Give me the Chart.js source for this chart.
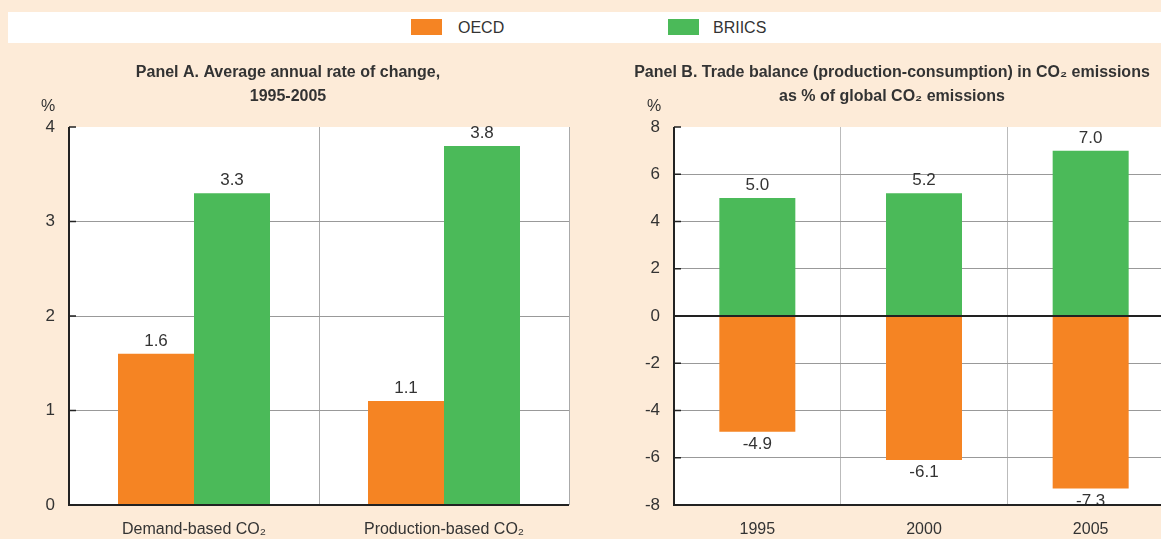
<!DOCTYPE html>
<html>
<head>
<meta charset="utf-8">
<script src="https://cdn.jsdelivr.net/npm/chart.js@4.4.1/dist/chart.umd.min.js"></script>
<style>
  html, body { margin: 0; padding: 0; }
  body {
    width: 1161px; height: 539px; overflow: hidden; position: relative;
    background: #FDEBD8;
    font-family: 'Liberation Sans Narrow', 'Arial Narrow', 'Liberation Sans', sans-serif;
  }
  #legend {
    position: absolute; left: 8px; top: 12px; width: 1153px; height: 31px;
    background: #fff; z-index: 2;
  }
  .item { position: absolute; top: 0; height: 31px; line-height: 31px; font-size: 16px; color: #333; }
  .swatch { position: absolute; top: 7px; width: 31px; height: 16px; }
  #wrapA { position: absolute; left: 0; top: 0; width: 580px; height: 539px; }
  #wrapB { position: absolute; left: 580px; top: 0; width: 620px; height: 539px; }
</style>
</head>
<body>
<div id="legend">
  <div class="swatch" style="left:403px;background:#F58423"></div>
  <div class="item" style="left:450px">OECD</div>
  <div class="swatch" style="left:660px;background:#4BBA59"></div>
  <div class="item" style="left:705px">BRIICS</div>
</div>
<div id="wrapA"><canvas id="panel-a"></canvas></div>
<div id="wrapB"><canvas id="panel-b"></canvas></div>
<script>
// Panel A data
const rateLabels = ['Demand-based CO\u2082', 'Production-based CO\u2082'];
const rateOecd = [1.6, 1.1];
const rateBriics = [3.3, 3.8];

// Panel B data
const balanceYears = ['1995', '2000', '2005'];
const balanceOecd = [-4.9, -6.1, -7.3];
const balanceBriics = [5.0, 5.2, 7.0];

const OECD_COLOR = '#F58423';
const BRIICS_COLOR = '#4BBA59';
const FONT = "'Liberation Sans Narrow', 'Arial Narrow', 'Liberation Sans', sans-serif";
const TEXT = '#333';

Chart.defaults.font.family = FONT;
Chart.defaults.color = TEXT;
Chart.defaults.animation = false;

// white plot background
const plotBg = {
    id: 'plotBg',
    beforeDraw(chart) {
        const a = chart.chartArea;
        const c = chart.ctx;
        c.save();
        c.fillStyle = '#fff';
        c.fillRect(a.left, a.top, a.right - a.left, a.bottom - a.top);
        c.restore();
    }
};

// value labels above / below each bar
const valueLabels = {
    id: 'valueLabels',
    afterDatasetsDraw(chart) {
        const c = chart.ctx;
        c.save();
        c.font = '17px ' + FONT;
        c.fillStyle = TEXT;
        c.textAlign = 'center';
        chart.data.datasets.forEach((ds, i) => {
            chart.getDatasetMeta(i).data.forEach((bar, j) => {
                const v = ds.data[j];
                if (v >= 0) {
                    c.textBaseline = 'bottom';
                    c.fillText(v.toFixed(1), bar.x, bar.y - 4);
                } else {
                    c.textBaseline = 'top';
                    c.fillText(v.toFixed(1), bar.x, bar.y + 4);
                }
            });
        });
        c.restore();
    }
};

// panel title, % unit and axis lines
const panelDecor = {
    id: 'panelDecor',
    afterDraw(chart, args, opts) {
        const c = chart.ctx;
        const a = chart.chartArea;
        c.save();
        c.fillStyle = TEXT;
        c.textAlign = 'center';
        c.textBaseline = 'middle';
        c.font = 'bold 16px ' + FONT;
        opts.title.forEach((line, i) => c.fillText(line, opts.titleX, 73 + i * 24));
        c.font = '16px ' + FONT;
        c.fillText('%', opts.unitX, 107);
        c.strokeStyle = '#222';
        c.lineWidth = 2;
        c.beginPath();
        c.moveTo(a.left, a.top);
        c.lineTo(a.left, a.bottom);
        c.lineTo(a.right, a.bottom);
        if (opts.zeroLine) {
            const y0 = chart.scales.y.getPixelForValue(0);
            c.moveTo(a.left, y0);
            c.lineTo(a.right, y0);
        }
        c.stroke();
        // small ticks on the left axis
        c.lineWidth = 1.5;
        chart.scales.y.ticks.forEach(t => {
            const y = chart.scales.y.getPixelForValue(t.value);
            c.beginPath();
            c.moveTo(a.left, y);
            c.lineTo(a.left + 7, y);
            c.stroke();
        });
        c.restore();
    }
};

function fixWidth(w) { return scale => { scale.width = w; }; }
function fixHeight(h) { return scale => { scale.height = h; }; }

const gridColor = (n, col) => (ctx) => (ctx.index === 0 || ctx.index === n) ? 'rgba(0,0,0,0)' : col;

let panelA = new Chart(document.getElementById('panel-a'), {
    type: 'bar',
    data: {
        labels: rateLabels,
        datasets: [
            { label: 'OECD', data: rateOecd, backgroundColor: OECD_COLOR },
            { label: 'BRIICS', data: rateBriics, backgroundColor: BRIICS_COLOR }
        ]
    },
    options: {
        responsive: true,
        maintainAspectRatio: false,
        categoryPercentage: 0.608,
        barPercentage: 1,
        layout: { padding: { top: 127, right: 11, left: 0, bottom: 0 } },
        plugins: {
            legend: { display: false },
            tooltip: { enabled: false },
            panelDecor: {
                title: ['Panel A. Average annual rate of change,', '1995-2005'],
                titleX: 288, unitX: 48, zeroLine: false
            }
        },
        scales: {
            x: {
                afterFit: fixHeight(34),
                grid: { offset: true, drawTicks: false, color: gridColor(2, '#aaa') },
                border: { display: false },
                ticks: { padding: 15, font: { size: 16 }, color: TEXT }
            },
            y: {
                min: 0, max: 4,
                afterFit: fixWidth(69),
                grid: { drawTicks: false, color: gridColor(4, '#999') },
                border: { display: false },
                ticks: { stepSize: 1, padding: 14, font: { size: 17 }, color: TEXT }
            }
        }
    },
    plugins: [plotBg, valueLabels, panelDecor]
});

let panelB = new Chart(document.getElementById('panel-b'), {
    type: 'bar',
    data: {
        labels: balanceYears,
        datasets: [
            { label: 'OECD', data: balanceOecd, backgroundColor: OECD_COLOR },
            { label: 'BRIICS', data: balanceBriics, backgroundColor: BRIICS_COLOR }
        ]
    },
    options: {
        responsive: true,
        maintainAspectRatio: false,
        categoryPercentage: 1,
        barPercentage: 0.456,
        layout: { padding: { top: 127, right: 26, left: 0, bottom: 0 } },
        plugins: {
            legend: { display: false },
            tooltip: { enabled: false },
            panelDecor: {
                title: ['Panel B. Trade balance (production-consumption) in CO\u2082 emissions',
                        'as % of global CO\u2082 emissions'],
                titleX: 312, unitX: 74, zeroLine: true
            }
        },
        scales: {
            x: {
                stacked: true,
                afterFit: fixHeight(34),
                grid: { offset: true, drawTicks: false, color: gridColor(3, '#bbb') },
                border: { display: false },
                ticks: { padding: 15, font: { size: 16 }, color: TEXT }
            },
            y: {
                stacked: true,
                min: -8, max: 8,
                afterFit: fixWidth(94),
                grid: { drawTicks: false, color: (ctx) => ctx.index === 8 ? 'rgba(0,0,0,0)' : '#999' },
                border: { display: false },
                ticks: { stepSize: 2, padding: 14, font: { size: 17 }, color: TEXT }
            }
        }
    },
    plugins: [plotBg, valueLabels, panelDecor]
});
</script>
</body>
</html>
